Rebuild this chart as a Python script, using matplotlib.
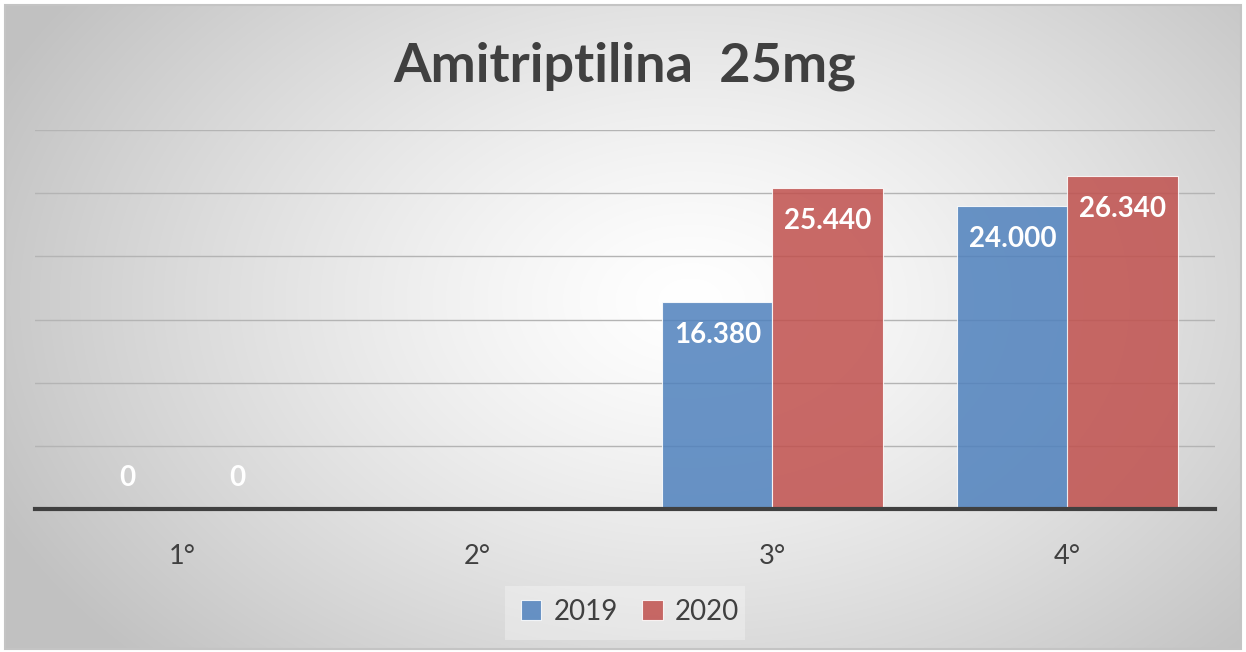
import numpy as np
import matplotlib
matplotlib.use("Agg")
import matplotlib.pyplot as plt
from matplotlib.patches import Rectangle

categories = ["1°", "2°", "3°", "4°"]
series_names = ["2019", "2020"]
values_2019 = [0, np.nan, 16380, 24000]
values_2020 = [0, np.nan, 25440, 26340]
title = "Amitriptilina  25mg"

blue = "#4F81BD"
red = "#C0504D"

plt.rcParams['font.family'] = ['Lato', 'DejaVu Sans']

W, H = 1246, 652
fig = plt.figure(figsize=(W / 100, H / 100), dpi=100)
fig.patch.set_facecolor("white")

# background gradient
bg = fig.add_axes([0, 0, 1, 1])
yy, xx = np.mgrid[0:H, 0:W]
cx, cy = 690, 300
r = np.sqrt(((xx - cx) / 760.0) ** 2 + ((yy - cy) / 520.0) ** 2)
val = 1.0 - 0.24 * np.clip(r, 0, 1) ** 1.3
img = np.dstack([val, val, val])
bg.imshow(img, extent=[0, W, H, 0], aspect="auto", interpolation="bilinear")
bg.set_xlim(0, W)
bg.set_ylim(H, 0)
bg.axis("off")
# white outer margin and border
bg.add_patch(Rectangle((0, 0), W, 4, color="white", zorder=3))
bg.add_patch(Rectangle((0, 0), 4, H, color="white", zorder=3))
bg.add_patch(Rectangle((0, H - 3), W, 3, color="white", zorder=3))
bg.add_patch(Rectangle((W - 5, 0), 5, H, color="white", zorder=3))
bg.add_patch(Rectangle((4.5, 4.5), W - 10, H - 8, fill=False, ec="#c4c4c4", lw=1.5, zorder=4))
# legend box background
bg.add_patch(Rectangle((505, 586), 240, 54, color="white", alpha=0.3, lw=0, zorder=2))

# main axes
x0, x1 = 35, 1215
ytop, ybot = 130, 509
ax = fig.add_axes([x0 / W, 1 - ybot / H, (x1 - x0) / W, (ybot - ytop) / H])
ax.patch.set_alpha(0)

x = np.arange(len(categories))
bw = 0.374
ax.bar(x - bw / 2, values_2019, bw, color=blue, alpha=0.85, edgecolor="#ffffff", linewidth=0.8, zorder=3, label=series_names[0])
ax.bar(x + bw / 2, values_2020, bw, color=red, alpha=0.85, edgecolor="#ffffff", linewidth=0.8, zorder=3, label=series_names[1])

def fmt(v):
    return f"{v:,.0f}".replace(",", ".")

for offs, vals in ((-bw / 2, values_2019), (bw / 2, values_2020)):
    for xi, v in zip(x, vals):
        if np.isnan(v):
            continue
        dy = -33 if v > 0 else 31
        ax.annotate(fmt(v), (xi + offs, v), xytext=(0, dy), textcoords="offset pixels",
                    ha="center", va="center", color="white", fontsize=20, fontweight="bold", zorder=5)

ax.set_xlim(-0.5, len(categories) - 0.5)
ax.set_ylim(0, 30000)
ax.set_yticks(np.arange(0, 30001, 5000))
ax.yaxis.grid(True, color="#b4b4b4", lw=1.0, zorder=4)
ax.set_axisbelow(False)
for s in ["left", "right", "top"]:
    ax.spines[s].set_visible(False)
ax.spines["bottom"].set_color("#404040")
ax.spines["bottom"].set_linewidth(3)
ax.spines["bottom"].set_zorder(6)
ax.tick_params(axis="y", left=False, labelleft=False)
ax.tick_params(axis="x", bottom=False, labelsize=19.5, labelcolor="#404040", pad=22)
ax.set_xticks(x)
ax.set_xticklabels(categories)

fig.text(625 / W, 1 - 66 / H, title, ha="center", va="center", fontsize=39, fontweight="bold", color="#404040")

leg = fig.legend(loc="center", bbox_to_anchor=(630 / W, 1 - 612 / H), ncol=2, frameon=False,
                 fontsize=20, handlelength=0.75, handleheight=0.75, handletextpad=0.45, columnspacing=0.85,
                 labelcolor="#404040")

fig.savefig("out.png", dpi=100)
